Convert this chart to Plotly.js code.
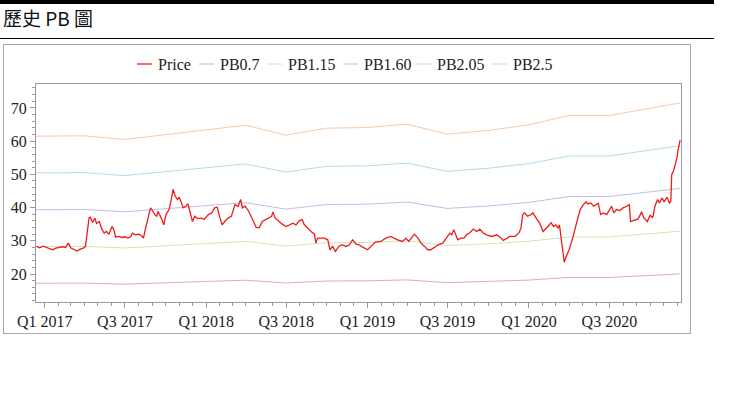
<!DOCTYPE html>
<html>
<head>
<meta charset="utf-8">
<script src="https://cdn.plot.ly/plotly-3.0.1.min.js"></script>
<style>
  html, body { margin:0; padding:0; background:#fff; }
  #topbar { position:absolute; left:0; top:0; width:714px; height:4px; background:#000; }
  #pagetitle { position:absolute; left:3px; top:8px; font-family:'Noto Sans CJK TC','Noto Sans CJK SC',sans-serif; font-size:19px; line-height:19px; color:#111; white-space:pre; }
  #rule { position:absolute; left:0; top:38px; width:714px; height:1px; background:#000; }
  #frame { position:absolute; left:3px; top:44px; width:686px; height:288px; border:1px solid #a8a8a8; }
  #chart { position:absolute; left:0; top:0; width:686px; height:288px; }
</style>
</head>
<body>
<div id="topbar"></div>
<div id="pagetitle">歷史 PB 圖</div>
<div id="rule"></div>
<div id="frame"><div id="chart"></div></div>
<script>
// ---- data ----
const seriesNames = ['Price', 'PB0.7', 'PB1.15', 'PB1.60', 'PB2.05', 'PB2.5'];

const priceDates = [
  '2016-12-13','2016-12-20','2016-12-28','2017-01-05','2017-01-12','2017-01-19','2017-01-26','2017-02-03','2017-02-10','2017-02-17',
  '2017-02-23','2017-03-01','2017-03-08','2017-03-15','2017-03-22','2017-03-29','2017-04-03','2017-04-07','2017-04-11','2017-04-14',
  '2017-04-19','2017-04-24','2017-04-28','2017-05-04','2017-05-10','2017-05-15','2017-05-20','2017-05-26','2017-06-02','2017-06-07',
  '2017-06-10','2017-06-17','2017-06-24','2017-07-01','2017-07-08','2017-07-14','2017-07-18','2017-07-25','2017-08-01','2017-08-08',
  '2017-08-12','2017-08-17','2017-08-24','2017-08-28','2017-08-31','2017-09-04','2017-09-07','2017-09-11','2017-09-14','2017-09-21',
  '2017-09-27','2017-10-02','2017-10-09','2017-10-14','2017-10-18','2017-10-23','2017-10-28','2017-11-01','2017-11-06','2017-11-10',
  '2017-11-16','2017-11-21','2017-11-24','2017-12-01','2017-12-06','2017-12-13','2017-12-21','2017-12-27','2018-01-06','2018-01-13',
  '2018-01-20','2018-01-26','2018-01-31','2018-02-06','2018-02-12','2018-02-20','2018-02-27','2018-03-07','2018-03-14','2018-03-20',
  '2018-03-24','2018-03-30','2018-04-07','2018-04-11','2018-04-16','2018-04-24','2018-05-01','2018-05-08','2018-05-16','2018-05-23',
  '2018-05-29','2018-06-01','2018-06-06','2018-06-15','2018-06-22','2018-07-01','2018-07-08','2018-07-16','2018-07-23','2018-07-31',
  '2018-08-06','2018-08-11','2018-08-19','2018-08-26','2018-09-03','2018-09-06','2018-09-10','2018-09-17','2018-09-25','2018-10-03',
  '2018-10-08','2018-10-14','2018-10-20','2018-10-28','2018-11-04','2018-11-13','2018-11-21','2018-11-28','2018-12-06','2018-12-13',
  '2018-12-18','2019-01-01','2019-01-08','2019-01-19','2019-01-31','2019-02-11','2019-02-22','2019-03-01','2019-03-10','2019-03-21',
  '2019-03-29','2019-04-04','2019-04-10','2019-04-17','2019-04-25','2019-05-02','2019-05-10','2019-05-17','2019-05-24','2019-05-29',
  '2019-06-10','2019-06-20','2019-06-29','2019-07-06','2019-07-10','2019-07-15','2019-07-19','2019-07-24','2019-07-31','2019-08-07',
  '2019-08-13','2019-08-21','2019-08-28','2019-09-05','2019-09-12','2019-09-20','2019-09-27','2019-10-09','2019-10-20','2019-10-28',
  '2019-11-04','2019-11-12','2019-11-19','2019-12-01','2019-12-10','2019-12-14','2019-12-18','2019-12-22','2019-12-29','2020-01-06',
  '2020-01-10','2020-01-17','2020-01-25','2020-02-02','2020-02-08','2020-02-13','2020-02-20','2020-02-26','2020-03-02','2020-03-07',
  '2020-03-10','2020-03-14','2020-03-17','2020-03-21','2020-03-25','2020-04-01','2020-04-09','2020-04-15','2020-04-19','2020-04-26',
  '2020-05-03','2020-05-09','2020-05-14','2020-05-20','2020-05-26','2020-06-01','2020-06-06','2020-06-11','2020-06-17','2020-06-25',
  '2020-07-01','2020-07-06','2020-07-11','2020-07-17','2020-07-25','2020-08-01','2020-08-09','2020-08-15','2020-08-18','2020-08-28',
  '2020-09-04','2020-09-12','2020-09-17','2020-09-25','2020-10-01','2020-10-07','2020-10-12','2020-10-18','2020-10-22','2020-10-28',
  '2020-11-02','2020-11-08','2020-11-14','2020-11-17','2020-11-19','2020-11-23','2020-11-27','2020-12-01','2020-12-03','2020-12-06',
  '2020-12-08'
];
const priceValues = [
  28.3, 27.9, 28.4, 28.0, 27.6, 27.3, 27.8, 28.1, 28.2, 28.0,
  29.3, 27.8, 27.3, 26.9, 27.5, 27.8, 28.3, 33.0, 36.9, 37.1,
  35.5, 36.8, 35.2, 35.8, 33.5, 32.3, 32.8, 32.0, 34.3, 33.0,
  31.1, 31.3, 31.0, 31.2, 30.8, 31.2, 32.3, 31.8, 32.0, 31.5,
  30.8, 33.8, 37.5, 39.9, 39.4, 38.2, 37.8, 37.4, 38.9, 36.9,
  34.8, 37.9, 39.4, 42.4, 45.5, 43.4, 42.4, 43.1, 40.9, 39.9,
  40.4, 41.1, 39.4, 35.8, 37.4, 36.7, 36.8, 36.4, 37.9, 38.3,
  39.9, 40.1, 37.4, 34.8, 35.8, 36.9, 37.4, 40.9, 40.4, 42.4,
  39.9, 40.4, 38.9, 37.9, 36.4, 34.0, 33.9, 35.8, 36.4, 36.9,
  37.4, 38.7, 36.9, 35.8, 35.0, 34.3, 34.8, 35.3, 34.8, 36.1,
  36.4, 34.8, 33.8, 32.8, 32.0, 29.3, 30.8, 30.8, 30.8, 30.3,
  27.3, 28.3, 26.8, 28.3, 28.8, 28.3, 28.8, 30.3, 29.0, 28.8,
  28.3, 27.3, 28.3, 29.6, 29.8, 30.8, 31.3, 30.8, 30.3, 29.8,
  30.8, 29.8, 30.8, 32.0, 30.8, 29.3, 28.3, 27.3, 27.3, 27.8,
  28.8, 29.3, 30.8, 32.3, 31.8, 33.3, 32.0, 30.3, 30.8, 30.8,
  31.8, 32.5, 33.5, 32.8, 33.5, 32.3, 31.8, 31.3, 31.8, 31.1,
  30.1, 30.8, 31.3, 31.3, 32.5, 33.8, 37.9, 38.4, 37.4, 37.9,
  38.4, 36.9, 35.4, 32.8, 33.8, 34.3, 35.4, 34.3, 34.8, 33.8,
  34.8, 30.3, 26.3, 23.5, 25.2, 27.3, 30.8, 34.3, 36.0, 39.4,
  40.9, 41.7, 41.1, 41.4, 40.4, 40.9, 41.3, 37.9, 38.4, 37.9,
  39.4, 40.4, 38.4, 39.4, 39.1, 39.9, 40.4, 40.9, 35.8, 36.3,
  36.6, 38.7, 36.9, 35.8, 37.7, 36.9, 40.4, 42.4, 41.4, 42.9,
  41.7, 43.1, 41.4, 41.9, 50.0, 51.0, 53.0, 55.0, 57.1, 59.1,
  60.3
];

const pbDates = ['2016-12-12','2017-03-31','2017-06-30','2017-09-30','2017-12-31','2018-03-31','2018-06-30','2018-09-30',
  '2018-12-31','2019-03-31','2019-06-30','2019-09-30','2019-12-31','2020-03-31','2020-06-30','2020-09-30','2020-12-08'];
const pb070 = [17.22, 17.25, 16.94, 17.36, 17.75, 18.14, 17.30, 17.89, 17.95, 18.23, 17.39, 17.70, 18.17, 18.96, 18.96, 19.54, 20.02];
const pb115 = [28.29, 28.34, 27.83, 28.52, 29.16, 29.81, 28.43, 29.39, 29.49, 29.95, 28.57, 29.07, 29.85, 31.14, 31.14, 32.11, 32.89];
const pb160 = [39.36, 39.42, 38.72, 39.68, 40.58, 41.47, 39.55, 40.90, 41.02, 41.66, 39.74, 40.45, 41.54, 43.33, 43.33, 44.67, 45.76];
const pb205 = [50.43, 50.51, 49.61, 50.84, 51.99, 53.14, 50.68, 52.40, 52.56, 53.38, 50.92, 51.82, 53.22, 55.51, 55.51, 57.24, 58.63];
const pb250 = [61.5, 61.6, 60.5, 62.0, 63.4, 64.8, 61.8, 63.9, 64.1, 65.1, 62.1, 63.2, 64.9, 67.7, 67.7, 69.8, 71.5];

const xTickVals = ['2017-01-01','2017-07-01','2018-01-01','2018-07-01','2019-01-01','2019-07-01','2020-01-01','2020-07-01'];
const xTickText = ['Q1 2017','Q3 2017','Q1 2018','Q3 2018','Q1 2019','Q3 2019','Q1 2020','Q3 2020'];

// ---- style ----
const colors = ['#ee1c1c', '#e2aab8', '#d6e2b6', '#bfbfe6', '#b6d9ec', '#f8c9aa'];
const serif = "'Liberation Serif','Times New Roman',serif";

const ySeries = [priceValues, pb070, pb115, pb160, pb205, pb250];
const traces = ySeries.map((ys, i) => ({
  type: 'scatter',
  mode: 'lines',
  name: seriesNames[i],
  x: i === 0 ? priceDates : pbDates,
  y: ys,
  line: { color: colors[i], width: i === 0 ? 1.3 : 1 },
  showlegend: false
})).reverse();

// custom legend (sample line + label), placed in pixels relative to the plot area
const plotLeft = 32, plotW = 645, plotH = 218;
const legendSampleLeft = [101, 163, 231, 307, 380, 456];   // px from plot left
const legendSampleLen = 15;
const legendGap = 5;
const legendY = 1 + 20 / plotH;
const px2paper = p => p / plotW;

const shapes = seriesNames.map((n, i) => ({
  type: 'line', xref: 'paper', yref: 'paper',
  x0: px2paper(legendSampleLeft[i]), x1: px2paper(legendSampleLeft[i] + legendSampleLen),
  y0: legendY, y1: legendY,
  line: { color: colors[i], width: i === 0 ? 1.3 : 1 }
}));
const annotations = seriesNames.map((n, i) => ({
  xref: 'paper', yref: 'paper',
  x: px2paper(legendSampleLeft[i] + legendSampleLen + legendGap), y: legendY,
  xanchor: 'left', yanchor: 'middle', showarrow: false,
  text: n, borderpad: 0,
  font: { family: serif, size: 16, color: '#222' }
}));

const axisColor = '#9a9a9a';
const layout = {
  width: 686, height: 288,
  margin: { l: plotLeft, r: 9, t: 39, b: 31 },
  paper_bgcolor: '#fff', plot_bgcolor: '#fff',
  font: { family: serif, size: 16, color: '#222' },
  showlegend: false,
  xaxis: {
    type: 'date',
    range: ['2016-12-12', '2020-12-10'],
    showgrid: false, zeroline: false,
    showline: true, linecolor: axisColor, linewidth: 1, mirror: true,
    ticks: 'outside', ticklen: 5, tickcolor: axisColor,
    tickmode: 'array', tickvals: xTickVals, ticktext: xTickText,
    tickfont: { family: serif, size: 16, color: '#222' },
    minor: { tickmode: 'linear', tick0: '2017-01-01', dtick: 'M1', ticks: 'outside', ticklen: 3, tickcolor: axisColor, showgrid: false }
  },
  yaxis: {
    range: [11.57, 77.2],
    showgrid: false, zeroline: false,
    showline: true, linecolor: axisColor, linewidth: 1, mirror: true,
    ticks: 'outside', ticklen: 5, tickcolor: axisColor,
    tick0: 0, dtick: 10,
    tickfont: { family: serif, size: 16, color: '#222' },
    minor: { dtick: 2, ticks: 'outside', ticklen: 3, tickcolor: axisColor, showgrid: false }
  },
  shapes: shapes,
  annotations: annotations
};

Plotly.newPlot('chart', traces, layout, { displayModeBar: false, staticPlot: true });
</script>
</body>
</html>
